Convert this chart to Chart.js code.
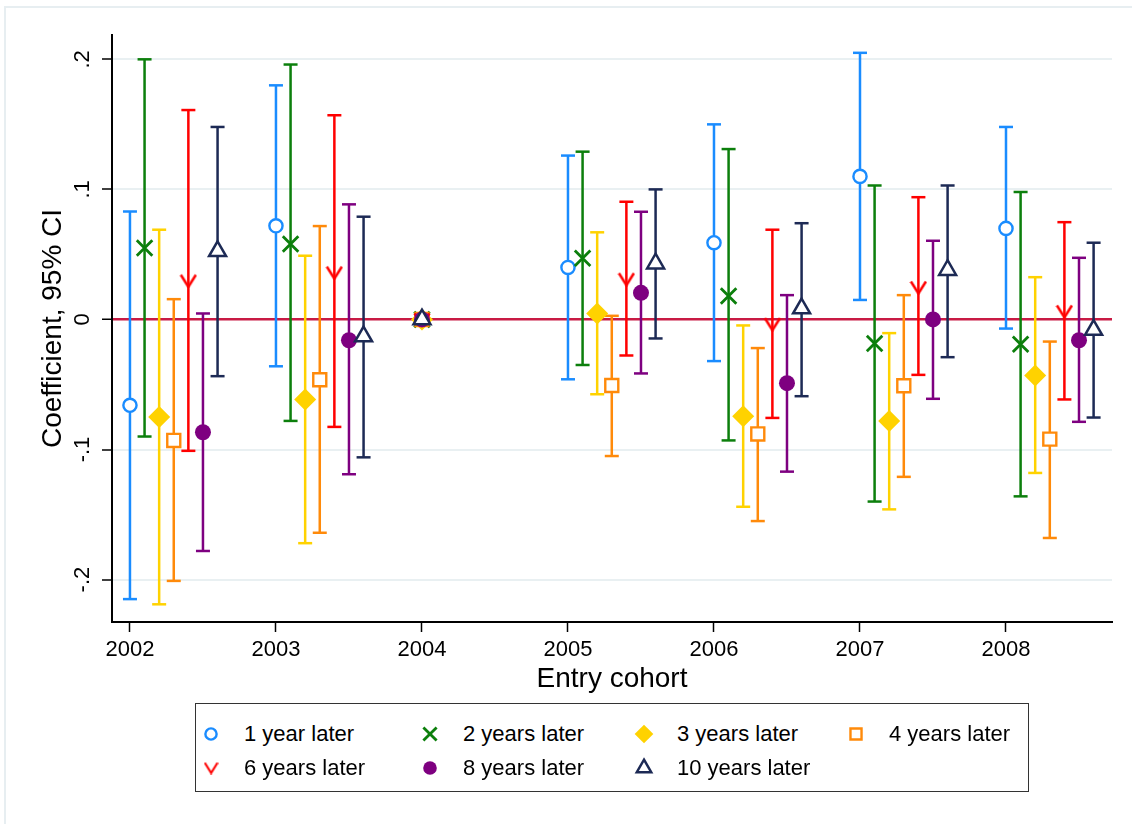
<!DOCTYPE html>
<html>
<head>
<meta charset="utf-8">
<title>Entry cohort coefficients</title>
<script src="https://cdn.jsdelivr.net/npm/chart.js@4.4.1/dist/chart.umd.min.js"></script>
<style>
    body { margin: 0; background: #fff; }
    #wrap { position: relative; width: 1132px; height: 824px; overflow: hidden; font-family: "Liberation Sans", Arial, sans-serif; }
    #frame { position: absolute; left: 4px; top: 6px; width: 1160px; height: 900px; border: 2px solid #e7eef1; box-sizing: border-box; }
    #chart { position: absolute; left: 0; top: 0; }
    #legend {
        position: absolute; left: 196px; top: 703px; width: 834px; height: 89px;
        border: 1.5px solid #333; box-sizing: border-box; background: #fff;
        display: grid; grid-template-columns: 219px 214px 212px 1fr; grid-auto-rows: 34px;
        padding-top: 13px; margin-left: -1px;
    }
    #legend .item { display: flex; align-items: center; font-size: 22px; color: #000; white-space: nowrap; }
    #legend canvas { width: 30px; height: 30px; margin-right: 18px; }
</style>
</head>
<body>
<div id="wrap">
    <div id="frame"></div>
    <canvas id="chart" width="1132" height="824"></canvas>
    <div id="legend"></div>
</div>
<script>
/* ── Data ─────────────────────────────────────────────── */
const years = [2002, 2003, 2004, 2005, 2006, 2007, 2008];
const baseYear = 2004;
const seriesNames = ['1 year later', '2 years later', '3 years later', '4 years later',
                     '6 years later', '8 years later', '10 years later'];

const est1 = [-0.066, 0.072, 0, 0.040, 0.059, 0.110, 0.070];
const lo1  = [-0.215, -0.036, null, -0.046, -0.032, 0.015, -0.007];
const hi1  = [0.083, 0.180, null, 0.126, 0.150, 0.205, 0.148];

const est2 = [0.055, 0.058, 0, 0.047, 0.018, -0.0185, -0.019];
const lo2  = [-0.090, -0.078, null, -0.035, -0.093, -0.140, -0.136];
const hi2  = [0.200, 0.196, null, 0.129, 0.131, 0.103, 0.098];

const est3 = [-0.075, -0.0615, 0, 0.0046, -0.0744, -0.078, -0.043];
const lo3  = [-0.219, -0.172, null, -0.0575, -0.144, -0.146, -0.118];
const hi3  = [0.069, 0.049, null, 0.067, -0.0046, -0.0105, 0.0325];

const est4 = [-0.093, -0.0464, 0, -0.0508, -0.088, -0.051, -0.092];
const lo4  = [-0.201, -0.164, null, -0.105, -0.155, -0.121, -0.168];
const hi4  = [0.0156, 0.0718, null, 0.0028, -0.022, 0.0187, -0.017];

const est6 = [0.0297, 0.036, 0, 0.031, -0.0036, 0.0246, 0.0062];
const lo6  = [-0.101, -0.0826, null, -0.0277, -0.0757, -0.0426, -0.0615];
const hi6  = [0.161, 0.157, null, 0.0905, 0.069, 0.094, 0.0748];

const est8 = [-0.0867, -0.016, 0, 0.0205, -0.049, 0.0, -0.016];
const lo8  = [-0.178, -0.119, null, -0.0415, -0.117, -0.061, -0.0787];
const hi8  = [0.0046, 0.0885, null, 0.0828, 0.0187, 0.0605, 0.0474];

const est10 = [0.0525, -0.013, 0, 0.043, 0.0085, 0.038, -0.008];
const lo10  = [-0.0436, -0.106, null, -0.0146, -0.059, -0.029, -0.0754];
const hi10  = [0.148, 0.079, null, 0.100, 0.074, 0.103, 0.059];

const yTicks = [-0.2, -0.1, 0, 0.1, 0.2];
const yTickLabels = ['-.2', '-.1', '0', '.1', '.2'];

/* ── Styles ───────────────────────────────────────────── */
const FONT = '"Liberation Sans", Arial, sans-serif';
const STEP = 0.1; // horizontal shift between series inside a cohort

// Stata-like "V" marker, drawn once on a small canvas
function makeVMarker(color, scale) {
    const c = document.createElement('canvas');
    c.width = Math.round(18 * scale);
    c.height = Math.round(15 * scale);
    const g = c.getContext('2d');
    g.strokeStyle = color;
    g.lineWidth = 2.5 * scale;
    g.lineJoin = 'miter';
    g.beginPath();
    g.moveTo(1.5 * scale, 1.5 * scale);
    g.lineTo(9 * scale, 13.5 * scale);
    g.lineTo(16.5 * scale, 1.5 * scale);
    g.stroke();
    return c;
}

const series = [
    { est: est1, lo: lo1, hi: hi1, color: '#1a8cff', style: 'circle', radius: 6.6, fill: '#fff', bw: 2.4 },
    { est: est2, lo: lo2, hi: hi2, color: '#0c7f0c', style: 'crossRot', radius: 11, fill: '#0c7f0c', bw: 2.8 },
    { est: est3, lo: lo3, hi: hi3, color: '#ffd200', style: 'rectRot', radius: 11, fill: '#ffd200', bw: 0 },
    { est: est4, lo: lo4, hi: hi4, color: '#ff8a0a', style: 'rect', radius: 9.2, fill: '#fff', bw: 2.4 },
    { est: est6, lo: lo6, hi: hi6, color: '#ff0000', style: 'v', radius: 8, fill: '#ff0000', bw: 0 },
    { est: est8, lo: lo8, hi: hi8, color: '#7e0080', style: 'circle', radius: 8, fill: '#7e0080', bw: 0 },
    { est: est10, lo: lo10, hi: hi10, color: '#1d2a55', style: 'triangle', radius: 9.8, fill: '#fff', bw: 2.5 }
];

function xPos(year, k) {
    return year === baseYear ? year : year + k * STEP;
}

function pointStyleOf(s, scale) {
    return s.style === 'v' ? makeVMarker(s.color, scale) : s.style;
}

/* ── Datasets ─────────────────────────────────────────── */
const datasets = [];

series.forEach(function (s, k) {
    const bars = [];
    years.forEach(function (yr, i) {
        if (s.lo[i] === null) return;
        const x = xPos(yr, k);
        bars.push({ x: x, y: s.lo[i] }, { x: x, y: s.hi[i] }, { x: x, y: null });
    });
    datasets.push({
        label: seriesNames[k] + ' CI',
        data: bars,
        showLine: true,
        spanGaps: false,
        borderColor: s.color,
        borderWidth: 2.5,
        pointStyle: 'line',
        pointRadius: 7,
        pointBorderWidth: 2.5,
        pointBorderColor: s.color,
        order: 100 + k
    });
});

series.forEach(function (s, k) {
    datasets.push({
        label: seriesNames[k],
        data: years.map((yr, i) => ({ x: xPos(yr, k), y: s.est[i] })),
        showLine: false,
        pointStyle: pointStyleOf(s, 1),
        pointRadius: s.radius,
        pointBackgroundColor: s.fill,
        pointBorderColor: s.color,
        pointBorderWidth: s.bw,
        order: 50 - k
    });
});

/* ── Chart ────────────────────────────────────────────── */
new Chart(document.getElementById('chart'), {
    type: 'scatter',
    data: { datasets: datasets },
    options: {
        responsive: false,
        animation: false,
        events: [],
        layout: { padding: { left: 0, right: 20, top: 35, bottom: 122 } },
        plugins: {
            legend: { display: false },
            tooltip: { enabled: false }
        },
        scales: {
            x: {
                type: 'linear',
                min: 2001.877,
                max: 2008.726,
                afterFit: s => { s.height = 80; },
                afterBuildTicks: s => { s.ticks = years.map(v => ({ value: v })); },
                ticks: {
                    callback: v => String(v),
                    font: { family: FONT, size: 22 },
                    color: '#000',
                    padding: 5,
                    maxRotation: 0,
                    autoSkip: false
                },
                grid: { drawOnChartArea: false, drawTicks: true, tickLength: 10, tickColor: '#000', tickWidth: 1.5 },
                border: { display: true, color: '#000', width: 2 },
                title: {
                    display: true,
                    text: 'Entry cohort',
                    font: { family: FONT, size: 28 },
                    color: '#000',
                    padding: { top: 0, bottom: 6 }
                }
            },
            y: {
                min: -0.2326,
                max: 0.2187,
                afterFit: s => { s.width = 112; },
                afterBuildTicks: s => { s.ticks = yTicks.map(v => ({ value: v })); },
                ticks: {
                    callback: v => yTickLabels[yTicks.indexOf(v)],
                    font: { family: FONT, size: 22 },
                    color: '#000',
                    minRotation: 90,
                    maxRotation: 90,
                    crossAlign: 'center',
                    padding: 6
                },
                grid: {
                    color: ctx => (ctx.tick && ctx.tick.value === 0) ? '#c81a44' : '#e9f0f2',
                    lineWidth: ctx => (ctx.tick && ctx.tick.value === 0) ? 2.5 : 2,
                    drawTicks: true,
                    tickLength: 10,
                    tickColor: '#000',
                    tickWidth: 1.5
                },
                border: { display: true, color: '#000', width: 2 },
                title: {
                    display: true,
                    text: 'Coefficient, 95% CI',
                    font: { family: FONT, size: 28 },
                    color: '#000',
                    padding: { top: 36, bottom: 0 }
                }
            }
        }
    }
});

/* ── Legend (HTML, markers drawn with Chart.js helper) ── */
const legendEl = document.getElementById('legend');
series.forEach(function (s, k) {
    const item = document.createElement('div');
    item.className = 'item';
    const c = document.createElement('canvas');
    c.width = 30;
    c.height = 30;
    const g = c.getContext('2d');
    g.fillStyle = s.fill;
    g.strokeStyle = s.color;
    g.lineWidth = s.bw;
    const style = pointStyleOf(s, 0.85);
    if (Chart.helpers && Chart.helpers.drawPoint) {
        Chart.helpers.drawPoint(g, { pointStyle: style, radius: s.radius * 0.85, borderWidth: s.bw, rotation: 0 }, 15, 15);
    }
    const label = document.createElement('span');
    label.textContent = seriesNames[k];
    item.appendChild(c);
    item.appendChild(label);
    legendEl.appendChild(item);
});
</script>
</body>
</html>
